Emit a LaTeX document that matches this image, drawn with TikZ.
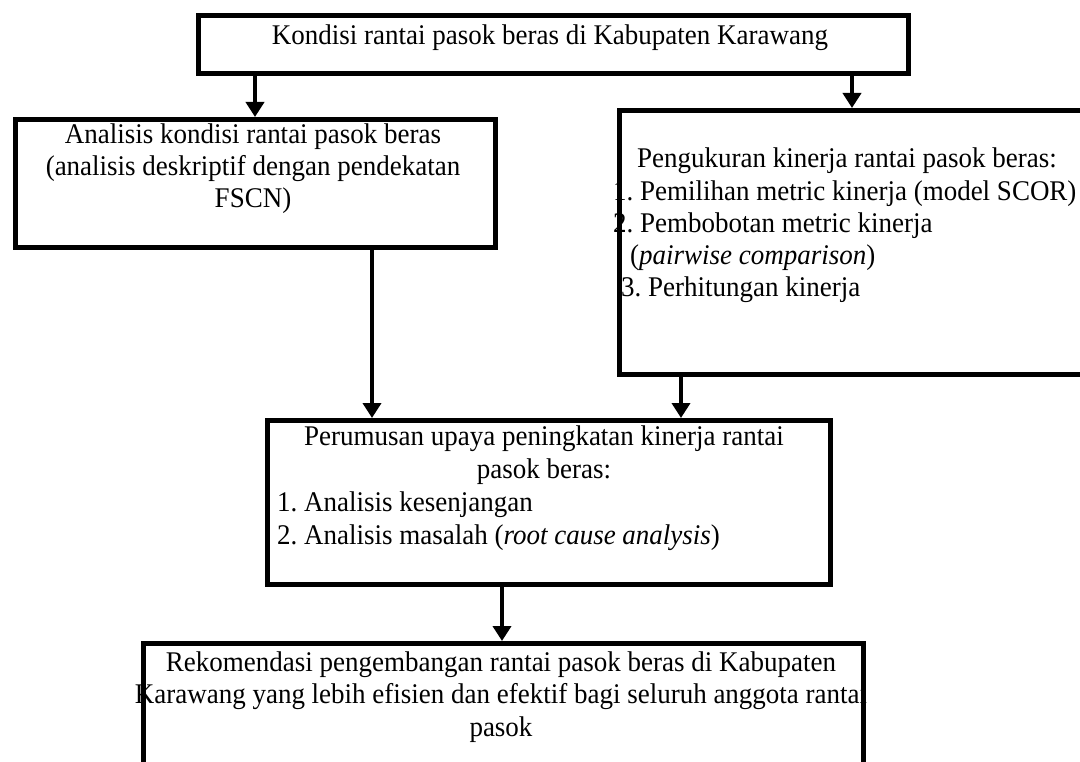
\documentclass[tikz,border=0pt]{standalone}
\usepackage{fontspec}
\setmainfont{Liberation Serif}[FakeStretch=0.947]
\usetikzlibrary{arrows.meta}
\begin{document}
\frenchspacing
\begin{tikzpicture}[x=1pt,y=-1pt,
  box/.style={draw=black,line width=5pt,rectangle,inner sep=0pt,anchor=north west},
  txt/.style={inner sep=0pt,font=\fontsize{28.5}{32.3}\selectfont},
  flow/.style={line width=4.5pt,-{Triangle[width=18pt,length=15pt]}}]
\clip (0,0) rectangle (1080,762);
\fill[white] (0,0) rectangle (1080,762);
% boxes
\node[box,minimum width=710pt,minimum height=58pt] (top) at (196,13) {};
\node[box,minimum width=480pt,minimum height=128pt] (left) at (13,117) {};
\node[box,minimum width=490pt,minimum height=264pt] (right) at (617,108) {};
\node[box,minimum width=563pt,minimum height=164pt] (mid) at (265,418) {};
\node[box,minimum width=720pt,minimum height=170pt] (bot) at (141,641) {};
% texts
\node[txt,anchor=base] (ttop) at (550,45) {Kondisi rantai pasok beras di Kabupaten Karawang};
\node[txt,anchor=base,align=center] (tleft) at (253,208) {Analisis kondisi rantai pasok beras\\(analisis deskriptif dengan pendekatan\\FSCN)};
\node[txt,anchor=base east] (trh) at (1057,168) {Pengukuran kinerja rantai pasok beras:};
\node[txt,anchor=base west,align=left] (trl) at (613,297) {1. Pemilihan metric kinerja (model SCOR)\\2. Pembobotan metric kinerja\\\hspace*{17pt}(\textit{pairwise comparison})\\\hspace*{8pt}3. Perhitungan kinerja};
\node[txt,anchor=base,align=center] (tmh) at (544,478) {Perumusan upaya peningkatan kinerja rantai\\pasok beras:};
\node[txt,anchor=base west,align=left] (tml) at (277,544) {1. Analisis kesenjangan\\2. Analisis masalah (\textit{root cause analysis})};
\node[txt,anchor=base,align=center] (tbot) at (501,736) {Rekomendasi pengembangan rantai pasok beras di Kabupaten\\Karawang yang lebih efisien dan efektif bagi seluruh anggota rantai\\pasok};
% connectors
\draw[flow] (top.south -| 255,0) -- (left.north -| 255,0);
\draw[flow] (top.south -| 852,0) -- (right.north -| 852,0);
\draw[flow] (left.south -| 372,0) -- (mid.north -| 372,0);
\draw[flow] (right.south -| 681,0) -- (mid.north -| 681,0);
\draw[flow] (mid.south -| 502,0) -- (bot.north -| 502,0);
\end{tikzpicture}
\end{document}
